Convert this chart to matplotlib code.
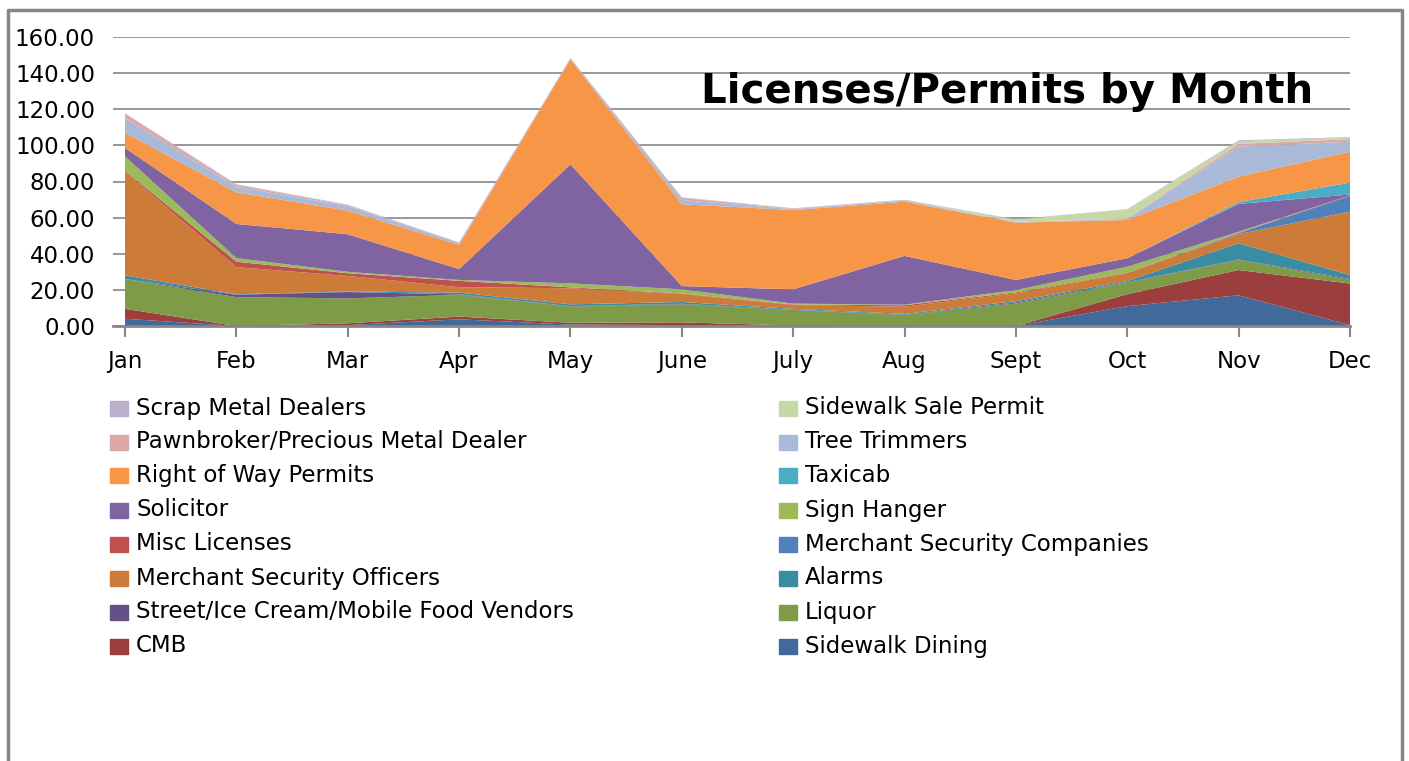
import matplotlib
matplotlib.use("Agg")
import matplotlib.pyplot as plt
from matplotlib.patches import Rectangle

# ---------------------------------------------------------------- data
months = ["Jan", "Feb", "Mar", "Apr", "May", "June", "July", "Aug", "Sept", "Oct", "Nov", "Dec"]

# stacking order, bottom -> top
sidewalk_dining = [4, 0, 0.5, 3.7, 0.8, 0.5, 0, 0, 0, 11, 17, 0.5]
cmb             = [5.5, 0, 1, 1.5, 1, 1.5, 0.3, 0, 0, 6.6, 14, 23]
liquor          = [16.5, 16, 13.8, 12, 9, 10, 8.5, 6, 12.5, 6.3, 5.5, 2]
street_vendors  = [0, 1.3, 3.5, 0.3, 0.2, 0.3, 0.2, 0.2, 0.5, 0.3, 0.3, 0.5]
alarms          = [2, 0.3, 0.3, 1, 1, 1, 0.5, 0.5, 0.8, 0.7, 9, 2.2]
merchant_sec_off = [57.4, 15, 8.6, 3, 8.9, 4.4, 2.1, 4, 4.3, 4.3, 5.1, 35.1]
merchant_sec_co = [0, 0, 0, 0, 0, 0, 0, 0, 0, 0, 0.5, 8.7]
misc_licenses   = [0.5, 3, 1.5, 3.5, 0.5, 0.3, 0.3, 0.8, 0.5, 0.3, 0.3, 0.3]
sign_hanger     = [8, 2, 0.8, 0.5, 2.2, 2.3, 0.5, 0.3, 1.3, 3.3, 0.5, 0]
solicitor       = [4.7, 18.9, 20.8, 6, 65.9, 1.8, 7.9, 27, 5.6, 4.7, 15.4, 0.5]
taxicab         = [0, 0, 0, 0, 0, 0, 0, 0, 0, 0, 1, 6.6]
right_of_way    = [8.4, 17.5, 13.1, 13.4, 58.2, 45.3, 43.9, 30, 31.7, 21.2, 14.1, 17.1]
tree_trimmers   = [8, 3, 2.5, 1, 0.3, 2.3, 0.5, 0.7, 0.3, 0.5, 16.6, 5.5]
pawnbroker      = [2.5, 1, 0.5, 0.2, 0.3, 1.2, 0.3, 0.2, 0.2, 0.3, 1.5, 1.5]
sidewalk_sale   = [0, 0, 0, 0, 0, 0, 0, 0, 1.2, 5, 1.5, 0.8]
scrap_metal     = [0.3, 0.5, 0.3, 0.2, 0.2, 0.3, 0.2, 0.2, 0.2, 0.2, 0.5, 0.3]

series_names = ["Sidewalk Dining", "CMB", "Liquor", "Street/Ice Cream/Mobile Food Vendors",
                "Alarms", "Merchant Security Officers", "Merchant Security Companies",
                "Misc Licenses", "Sign Hanger", "Solicitor", "Taxicab", "Right of Way Permits",
                "Tree Trimmers", "Pawnbroker/Precious Metal Dealer", "Sidewalk Sale Permit",
                "Scrap Metal Dealers"]
series_values = [sidewalk_dining, cmb, liquor, street_vendors, alarms, merchant_sec_off,
                 merchant_sec_co, misc_licenses, sign_hanger, solicitor, taxicab, right_of_way,
                 tree_trimmers, pawnbroker, sidewalk_sale, scrap_metal]
series_colors = ["#41699A", "#9C3E3E", "#7E9B48", "#674F87", "#3A8CA2", "#CC7B38",
                 "#4F81BD", "#C0504D", "#9BBB59", "#8064A2", "#4BACC6", "#F79646",
                 "#A9BAD8", "#DBA8A7", "#C5D8A5", "#BAB0CE"]

W, H = 1409, 761
plt.rcParams["font.family"] = ["DejaVu Sans"]

fig = plt.figure(figsize=(W / 100, H / 100), dpi=100)
ax = fig.add_axes([113 / W, 1 - 326 / H, (1350 - 113) / W, (326 - 37) / H])

x = list(range(len(months)))
ax.stackplot(x, *series_values, colors=series_colors, linewidth=0, zorder=2)

ax.set_xlim(-0.108, 11)
ax.set_ylim(0, 160)
ax.set_yticks(range(0, 161, 20))
ax.set_yticklabels([f"{v:.2f}" for v in range(0, 161, 20)], fontsize=16.5)
ax.set_xticks(x)
ax.set_xticklabels(months, fontsize=16.5)
ax.tick_params(axis="y", length=0, pad=13)
ax.tick_params(axis="x", length=8, width=1.5, color="#868686", pad=9)
ax.grid(axis="y", color="#868686", linewidth=1.2, zorder=0)
ax.set_axisbelow(True)
for side in ("top", "right", "left"):
    ax.spines[side].set_visible(False)
ax.spines["bottom"].set_color("#868686")
ax.spines["bottom"].set_linewidth(2)
ax.spines["bottom"].set_zorder(3)

fig.text(1007 / W, 1 - 92 / H, "Licenses/Permits by Month", fontsize=29, fontweight="bold",
         ha="center", va="center")

# legend, laid out the way Excel does it (reverse order, two columns)
rev = list(range(len(series_names)))[::-1]
order = rev[0::2] + rev[1::2]
for k, idx in enumerate(order):
    col, row = k // 8, k % 8
    yc = 408 + row * 34.0
    mx = 110 if col == 0 else 779
    fig.patches.append(Rectangle((mx / W, 1 - (yc + 7.5) / H), 18 / W, 15 / H,
                                 transform=fig.transFigure, color=series_colors[idx]))
    fig.text((mx + 26) / W, 1 - yc / H, series_names[idx], fontsize=16.5, va="center", ha="left")

# outer chart border
fig.add_artist(plt.Line2D([8 / W, 8 / W, 1402 / W, 1402 / W], [0, 1 - 10 / H, 1 - 10 / H, 0],
                          transform=fig.transFigure, color="#868686", linewidth=2.5))

fig.savefig("out.png", dpi=100)
